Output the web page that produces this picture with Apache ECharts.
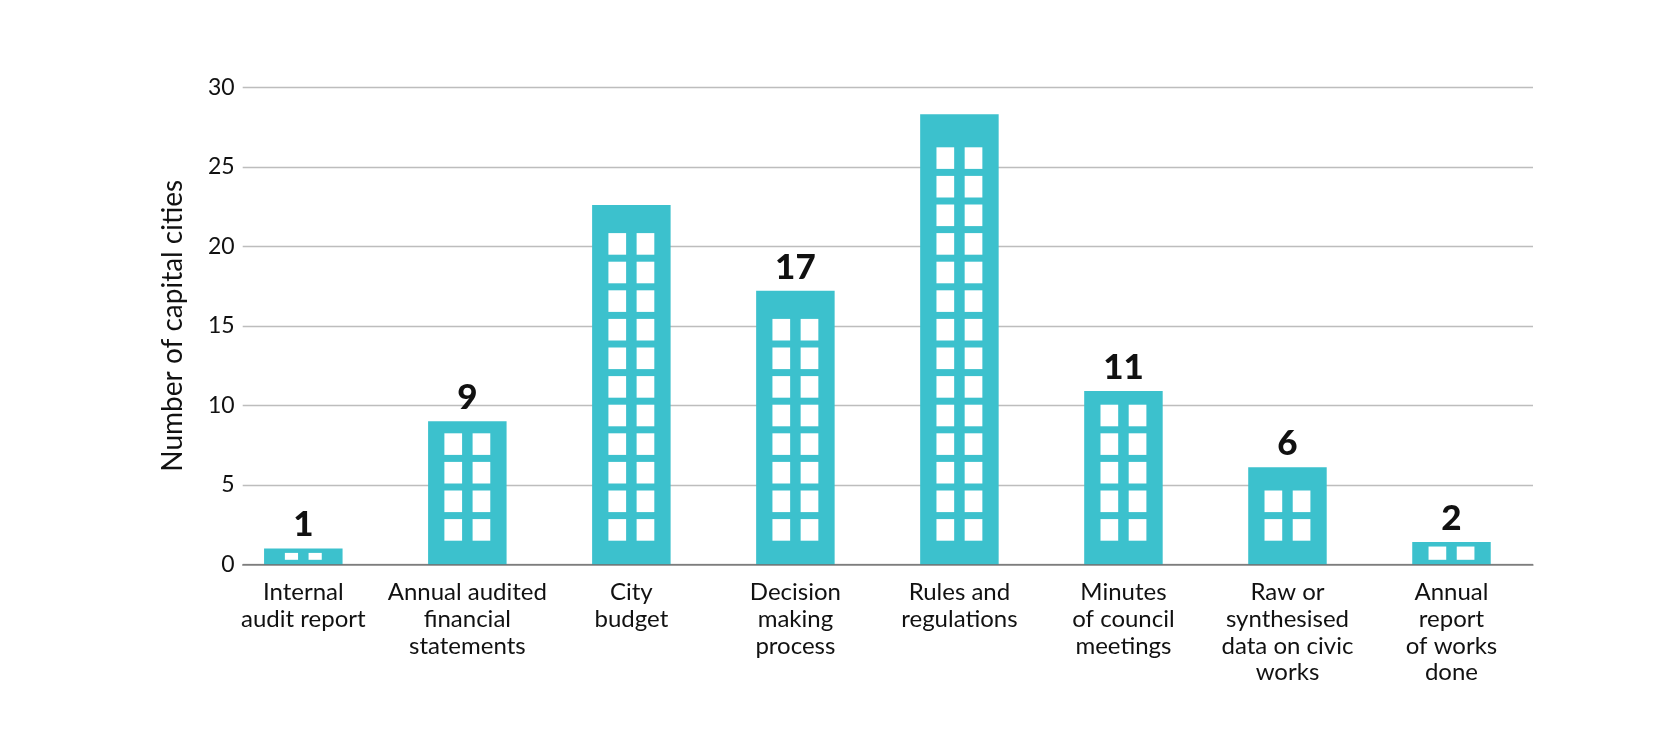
<!DOCTYPE html>
<html>
<head>
<meta charset="utf-8">
<script src="https://cdn.jsdelivr.net/npm/echarts@6/dist/echarts.min.js"></script>
<style>
html,body{margin:0;padding:0;background:#fff;}
#chart{width:1672px;height:745px;}
</style>
</head>
<body>
<div id="chart"></div>
<script>
const categories = [
  'Internal\naudit report',
  'Annual audited\nfinancial\nstatements',
  'City\nbudget',
  'Decision\nmaking\nprocess',
  'Rules and\nregulations',
  'Minutes\nof council\nmeetings',
  'Raw or\nsynthesised\ndata on civic\nworks',
  'Annual\nreport\nof works\ndone'
];
const barValues = [1, 9, 22.6, 17.2, 28.3, 10.9, 6.1, 1.4];
const valueLabels = ['1', '9', '', '17', '', '11', '6', '2'];
const yMin = 0, yMax = 30, yInterval = 5;
const yAxisTitle = 'Number of capital cities';

const BAR_COLOR = '#3cc1cd';
const chart = echarts.init(document.getElementById('chart'));

function renderWindows(params, api) {
  const i = api.value(0), v = api.value(1);
  const top = api.coord([i, v]);
  const base = api.coord([i, 0]);
  const cx = top[0];
  const h = base[1] - top[1];
  const gap = 10.5;
  const children = [];
  const style = { fill: '#ffffff' };
  if (h < 40) {
    const wh = h - 9;
    const ww = Math.min(17.7, h * 0.83);
    const y = top[1] + (h - wh) / 2;
    children.push({ type: 'rect', shape: { x: cx - gap / 2 - ww, y: y, width: ww, height: wh }, style });
    children.push({ type: 'rect', shape: { x: cx + gap / 2, y: y, width: ww, height: wh }, style });
  } else {
    const ww = 17.7, wh = 21.6, pitch = 28.6, bm = 23.6;
    const rows = Math.floor((h - bm - 8 + (pitch - wh)) / pitch);
    for (let r = 0; r < rows; r++) {
      const y = base[1] - bm - wh - r * pitch;
      children.push({ type: 'rect', shape: { x: cx - gap / 2 - ww, y: y, width: ww, height: wh }, style });
      children.push({ type: 'rect', shape: { x: cx + gap / 2, y: y, width: ww, height: wh }, style });
    }
  }
  return { type: 'group', children };
}

const option = {
  animation: false,
  backgroundColor: '#ffffff',
  grid: [
    { left: 221.3, top: 87.3, width: 1312.2, height: 477 },
    { left: 242.7, top: 87.3, width: 1290.3, height: 477 }
  ],
  xAxis: [
    {
      type: 'category',
      gridIndex: 0,
      data: categories,
      axisLine: { show: false },
      axisTick: { show: false },
      axisLabel: {
        interval: 0,
        margin: 15,
        fontFamily: 'Lato',
        fontWeight: 400,
        fontSize: 24,
        lineHeight: 26.7,
        color: '#111111',
        align: 'center',
        verticalAlign: 'top'
      }
    },
    {
      type: 'value',
      gridIndex: 1,
      min: 0, max: 1,
      z: 10,
      axisLine: { show: true, lineStyle: { color: 'rgba(0,0,0,0.45)', width: 1.5 } },
      axisTick: { show: false },
      axisLabel: { show: false },
      splitLine: { show: false }
    }
  ],
  yAxis: [
    {
      type: 'value',
      gridIndex: 0,
      min: yMin, max: yMax, interval: yInterval,
      show: false,
      splitLine: { show: false }
    },
    {
      type: 'value',
      gridIndex: 1,
      min: yMin, max: yMax, interval: yInterval,
      name: yAxisTitle,
      nameLocation: 'middle',
      nameRotate: 90,
      nameGap: 56,
      nameTextStyle: { fontFamily: 'Lato', fontWeight: 400, fontSize: 28, color: '#111111' },
      axisLine: { show: false },
      axisTick: { show: false },
      axisLabel: {
        margin: 8,
        fontFamily: 'Lato',
        fontWeight: 400,
        fontSize: 23,
        color: '#111111',
        padding: [14, 0, 0, 0]
      },
      splitLine: { show: true, lineStyle: { color: '#bdbdbd', width: 1.3 } }
    }
  ],
  series: [
    {
      type: 'bar',
      xAxisIndex: 0,
      yAxisIndex: 0,
      data: barValues,
      barWidth: 78.5,
      itemStyle: { color: BAR_COLOR },
      label: {
        show: true,
        position: 'top',
        distance: 6,
        formatter: p => valueLabels[p.dataIndex],
        fontFamily: 'Lato',
        fontSize: 35,
        fontWeight: 900,
        color: '#111111'
      },
      z: 2
    },
    {
      type: 'custom',
      xAxisIndex: 0,
      yAxisIndex: 0,
      data: barValues.map((v, i) => [i, v]),
      renderItem: renderWindows,
      z: 3,
      silent: true
    }
  ]
};
chart.setOption(option);
</script>
</body>
</html>
